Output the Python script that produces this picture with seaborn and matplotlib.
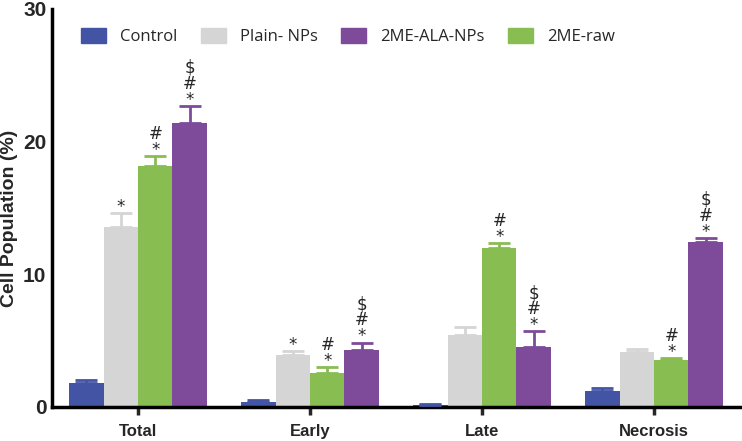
import numpy as np
import pandas as pd
import matplotlib
matplotlib.use('Agg')
import matplotlib.pyplot as plt
import matplotlib.patches as mpatches
import seaborn as sns

groups = ['Total', 'Early', 'Late', 'Necrosis']
treatments = ['Control', 'Plain- NPs', '2ME-raw', '2ME-ALA-NPs']
legend_order = ['Control', 'Plain- NPs', '2ME-ALA-NPs', '2ME-raw']

control = [1.8, 0.35, 0.15, 1.2]
plain = [13.6, 3.9, 5.45, 4.15]
raw = [18.2, 2.6, 12.0, 3.55]
ala = [21.4, 4.3, 4.55, 12.4]

control_err = [0.2, 0.15, 0.1, 0.2]
plain_err = [1.0, 0.3, 0.6, 0.2]
raw_err = [0.7, 0.4, 0.35, 0.15]
ala_err = [1.3, 0.55, 1.15, 0.35]

plain_sig = ['*', '*', '', '']
raw_sig = ['#\n*', '#\n*', '#\n*', '#\n*']
ala_sig = ['\\$\n#\n*', '\\$\n#\n*', '\\$\n#\n*', '\\$\n#\n*']

palette = {
    'Control': '#4454A4',
    'Plain- NPs': '#D4D5D4',
    '2ME-raw': '#88BD52',
    '2ME-ALA-NPs': '#7D4B9A',
}

values = [control, plain, raw, ala]
errors = [control_err, plain_err, raw_err, ala_err]
sigs = [['', '', '', ''], plain_sig, raw_sig, ala_sig]

rows = []
for t, vals in zip(treatments, values):
    for g, v in zip(groups, vals):
        rows.append({'group': g, 'treatment': t, 'value': v})
df = pd.DataFrame(rows)

sns.set_style('white')
plt.rcParams['font.family'] = ['Liberation Sans', 'DejaVu Sans']

fig = plt.figure(figsize=(7.42, 4.41), dpi=100)
ax = fig.add_axes([52 / 742, 34 / 441, 688 / 742, 398 / 441])

sns.barplot(data=df, x='group', y='value', hue='treatment', order=groups,
            hue_order=treatments, palette=palette, errorbar=None,
            width=0.8, saturation=1, linewidth=0, ax=ax, legend=False)

for cont, t, errs, sg in zip(ax.containers, treatments, errors, sigs):
    xs = [p.get_x() + p.get_width() / 2 for p in cont.patches]
    hs = [p.get_height() for p in cont.patches]
    ax.errorbar(xs, hs, yerr=[np.zeros(len(errs)), errs], fmt='none',
                ecolor=palette[t], elinewidth=2, capsize=8, capthick=2, zorder=3)
    for x, h, e, s in zip(xs, hs, errs, sg):
        if s:
            ax.text(x, h + e - 0.2, s, ha='center', va='bottom',
                    fontsize=12, linespacing=0.85, family='DejaVu Sans')

ax.set_ylim(0, 30)
ax.set_xlim(-0.5, 3.5)
ax.set_yticks([0, 10, 20, 30])
ax.set_xlabel('')
ax.set_ylabel('Cell Population (%)', fontsize=14, fontweight='bold')
ax.yaxis.set_label_coords(-0.049, 0.475)
ax.tick_params(axis='y', length=0, labelsize=15, pad=4)
ax.tick_params(axis='x', length=6, width=2.5, labelsize=12, pad=6, direction='out', bottom=True)
for lab in ax.get_xticklabels() + ax.get_yticklabels():
    lab.set_fontweight('bold')

sns.despine(ax=ax)
for sp in ['left', 'bottom']:
    ax.spines[sp].set_linewidth(2.5)
    ax.spines[sp].set_color('black')

handles = [mpatches.Patch(color=palette[t], label=t) for t in legend_order]
ax.legend(handles=handles, ncol=4, frameon=False, loc='upper left',
          bbox_to_anchor=(0.02, 0.99), handlelength=1.5,
          handleheight=1.0, columnspacing=1.4, handletextpad=0.85,
          prop={'family': 'Open Sans', 'size': 12})

fig.savefig('out.png', dpi=100)
